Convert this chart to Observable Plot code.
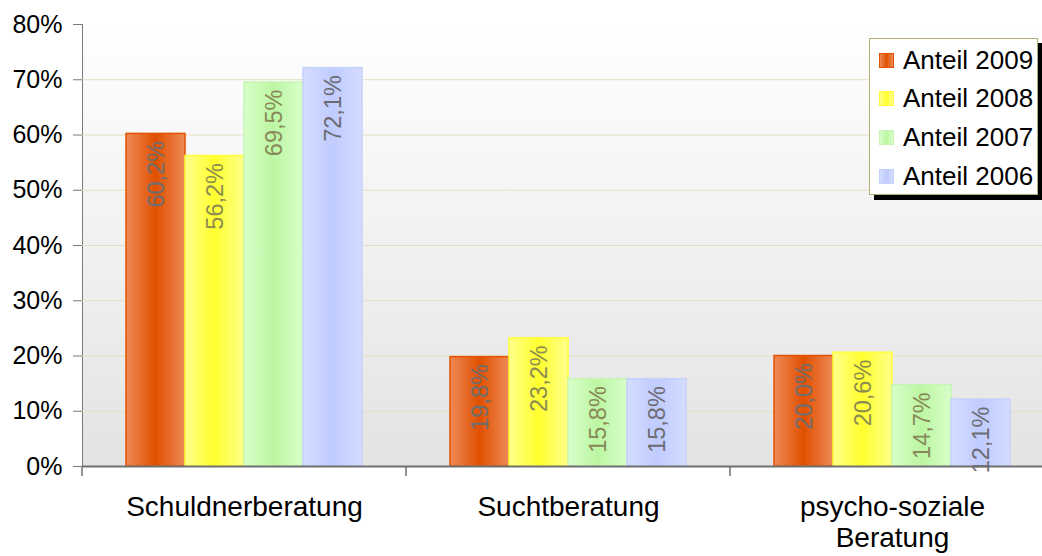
<!DOCTYPE html>
<html><head><meta charset="utf-8">
<script src="https://cdn.jsdelivr.net/npm/d3@7"></script>
<script src="https://cdn.jsdelivr.net/npm/@observablehq/plot@0.6"></script>
<style>
html,body{margin:0;padding:0;background:#fff;overflow:hidden;}
#wrap{position:relative;width:1042px;height:556px;}
#wrap svg g[aria-label^="y-axis"] text{fill:#000;}
#legend{position:absolute;left:869px;top:38px;width:167px;height:155px;background:#fff;border:1px solid #b4ad7a;box-shadow:5px 5px 0 #000;font-family:"Liberation Sans",Arial,sans-serif;font-size:26px;color:#000;}
.item{position:absolute;left:9px;height:30px;display:flex;align-items:center;white-space:nowrap;}
.sw{width:15px;height:15px;margin-right:9px;box-sizing:border-box;}
</style></head><body><div id="wrap"></div>
<script>
const categories = ["Schuldnerberatung", "Suchtberatung", "psycho-soziale\nBeratung"];
const series = ["Anteil 2009", "Anteil 2008", "Anteil 2007", "Anteil 2006"];
const v2009 = [60.2, 19.8, 20.0];
const v2008 = [56.2, 23.2, 20.6];
const v2007 = [69.5, 15.8, 14.7];
const v2006 = [72.1, 15.8, 12.1];
const yTicks = [0, 10, 20, 30, 40, 50, 60, 70, 80];
const gridTicks = [10, 20, 30, 40, 50, 60, 70];
const barEdge = ["#ee8a58", "#ffff8a", "#d8ffca", "#d4ddff"];
const barCenter = ["#e05000", "#ffff2e", "#bcf6a2", "#c0cbff"];
const barStroke = ["#e25200", "#ffff3c", "#c6f5b2", "#c6d0fc"];
const labelColor = ["#6e6e6e", "#8c8c50", "#88885a", "#6c6c72"];

const valuesBySeries = [v2009, v2008, v2007, v2006];
const rows = [];
categories.forEach((c, ci) => series.forEach((s, si) => rows.push({category: c, series: s, value: valuesBySeries[si][ci], i: si})));

const fmt = v => v.toFixed(1).replace(".", ",") + "%";

const svg = Plot.plot({
  width: 1042, height: 556,
  marginLeft: 82, marginRight: -12, marginTop: 24, marginBottom: 90,
  style: {fontFamily: "'Liberation Sans', Arial, sans-serif", fontSize: "25px", background: "transparent", overflow: "hidden", color: "#7a7a7a"},
  color: {type: "identity"},
  fx: {domain: categories, padding: 0, axis: null, label: null},
  x: {domain: series, paddingInner: 0, paddingOuter: 0.737, axis: null, label: null},
  y: {domain: [0, 80], ticks: yTicks, tickFormat: d => d + "%", tickSize: 9, tickPadding: 11, line: true, label: null},
  marks: [
    Plot.ruleY(gridTicks, {stroke: "#e4ddc2", strokeWidth: 1.2}),
    Plot.barY(rows, {fx: "category", x: "series", y: "value", fill: d => `url(#g${d.i})`, stroke: d => barStroke[d.i], strokeWidth: 1.5}),
    Plot.ruleY([0], {stroke: "#707070", strokeWidth: 2}),
    Plot.text(rows, {fx: "category", x: "series", y: "value", text: d => fmt(d.value), rotate: -90, textAnchor: "end", dy: 7, fill: d => labelColor[d.i], fontSize: 23.5}),
    Plot.text(categories, {fx: d => d, text: d => d, frameAnchor: "bottom", lineAnchor: "top", dy: 27, fontSize: 28, lineHeight: 1.12, fill: "#000"})
  ]
});

const root = d3.select(svg);
const defs = root.insert("defs", ":first-child");
series.forEach((s, i) => {
  const g = defs.append("linearGradient").attr("id", "g" + i).attr("x1", 0).attr("x2", 1).attr("y1", 0).attr("y2", 0);
  g.append("stop").attr("offset", "0%").attr("stop-color", barEdge[i]);
  g.append("stop").attr("offset", "50%").attr("stop-color", barCenter[i]);
  g.append("stop").attr("offset", "100%").attr("stop-color", barEdge[i]);
});
const bg = defs.append("linearGradient").attr("id", "bgGrad").attr("x1", 0).attr("x2", 0).attr("y1", 0).attr("y2", 1);
bg.append("stop").attr("offset", "0%").attr("stop-color", "#ffffff");
bg.append("stop").attr("offset", "100%").attr("stop-color", "#e3e3e3");

const fx = svg.scale("fx"), y = svg.scale("y");
const y0 = y.apply(0), yTop = y.apply(80);
const fxStart = fx.apply(categories[0]);
const fxEnd = fx.apply(categories[categories.length - 1]) + fx.step;

// single plot-area background behind all marks
root.insert("rect", "defs + *")
  .attr("x", fxStart).attr("y", yTop).attr("width", fxEnd - fxStart).attr("height", y0 - yTop)
  .attr("fill", "url(#bgGrad)");

// category separator ticks below the baseline
const sep = root.append("g").attr("stroke", "#707070").attr("stroke-width", 1.5);
categories.forEach(c => {
  const x0 = fx.apply(c);
  sep.append("line").attr("x1", x0).attr("x2", x0).attr("y1", y0).attr("y2", y0 + 10);
});

document.getElementById("wrap").appendChild(svg);

// legend
const legend = d3.select("#wrap").append("div").attr("id", "legend");
series.forEach((s, i) => {
  const it = legend.append("div").attr("class", "item").style("top", (6 + i * 38.7) + "px");
  it.append("div").attr("class", "sw")
    .style("background", `linear-gradient(to right, ${barEdge[i]}, ${barCenter[i]}, ${barEdge[i]})`)
    .style("border", `1px solid ${barStroke[i]}`);
  it.append("span").text(s);
});
</script></body></html>
